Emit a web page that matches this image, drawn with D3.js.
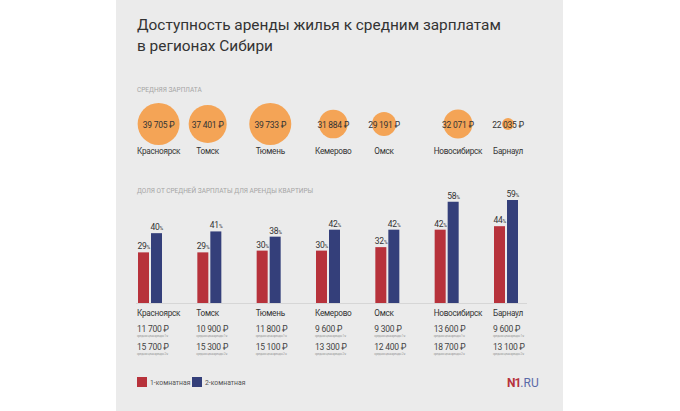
<!DOCTYPE html>
<html>
<head>
<meta charset="utf-8">
<script src="https://cdn.jsdelivr.net/npm/d3@7.9.0/dist/d3.min.js"></script>
<style>
  body { margin: 0; background: #fff; }
  svg { display: block; font-family: Roboto, "Noto Sans", sans-serif; }
  .nar { letter-spacing: -0.25px; }
</style>
</head>
<body>
<svg id="chart" width="680" height="411"></svg>
<script>
const cities = ['Красноярск', 'Томск', 'Тюмень', 'Кемерово', 'Омск', 'Новосибирск', 'Барнаул'];
const salary = [39705, 37401, 39733, 31884, 29191, 32071, 22035];
const share1 = [29, 29, 30, 30, 32, 42, 44];
const share2 = [40, 41, 38, 42, 42, 58, 59];
const rent1 = [11700, 10900, 11800, 9600, 9300, 13600, 9600];
const rent2 = [15700, 15300, 15100, 13300, 12400, 18700, 13100];
const seriesNames = ['1-комнатная', '2-комнатная'];

const red = '#b7323b', blue = '#343f7a', orange = '#f4a456';
const rub = d => d3.format(',')(d).replace(/,/g, ' ') + ' ₽';

const svg = d3.select('#chart');
// grey panel
svg.append('rect').attr('x', 116).attr('y', 0).attr('width', 447).attr('height', 411).attr('fill', '#ebebeb');

// title
const title = svg.append('text').attr('x', 137).attr('fill', '#333').attr('font-size', 15.4);
title.append('tspan').attr('x', 137).attr('y', 30).text('Доступность аренды жилья к средним зарплатам');
title.append('tspan').attr('x', 137).attr('y', 51).text('в регионах Сибири');

// section headings
svg.append('text').attr('x', 137).attr('y', 92).attr('font-size', 6.5).attr('fill', '#a5a5a5')
  .text('СРЕДНЯЯ ЗАРПЛАТА');
svg.append('text').attr('x', 137).attr('y', 193).attr('font-size', 6.5).attr('fill', '#a5a5a5')
  .text('ДОЛЯ ОТ СРЕДНЕЙ ЗАРПЛАТЫ ДЛЯ АРЕНДЫ КВАРТИРЫ');

// group positions
const x = d3.scalePoint().domain(cities).range([138, 494]);
const r = d3.scaleLinear().domain([22035, 39733]).range([6, 21]);
const y = d3.scaleLinear().domain([0, 59]).range([303, 200]);

// top row: salary circles
const bubbles = svg.append('g');
cities.forEach((c, i) => {
  const g = bubbles.append('g');
  const lab = g.append('text').attr('class', 'nar').attr('x', x(c) - 1).attr('y', 154)
    .attr('font-size', 8.2).attr('fill', '#333').text(c);
  const w = lab.node().getComputedTextLength();
  const cx = x(c) - 1 + w / 2;
  g.insert('circle', 'text').attr('cx', cx).attr('cy', 124).attr('r', r(salary[i])).attr('fill', orange);
  g.append('text').attr('class', 'nar').attr('x', cx).attr('y', 127.5).attr('text-anchor', 'middle')
    .attr('font-size', 8.5).attr('fill', '#333').text(rub(salary[i]));
});

// baseline
svg.append('line').attr('x1', 136).attr('x2', 527).attr('y1', 303.5).attr('y2', 303.5)
  .attr('stroke', '#d6d6d6').attr('stroke-width', 1);

// bars
const bw = 11;
[share1, share2].forEach((vals, s) => {
  const col = s === 0 ? red : blue;
  svg.append('g').selectAll('rect').data(vals).join('rect')
    .attr('x', (d, i) => x(cities[i]) + s * (bw + 2))
    .attr('y', d => y(d))
    .attr('width', bw)
    .attr('height', d => y(0) - y(d))
    .attr('fill', col);
  const lab = svg.append('g').selectAll('text').data(vals).join('text')
    .attr('class', 'nar')
    .attr('x', (d, i) => x(cities[i]) + s * (bw + 2) - 0.5)
    .attr('y', d => y(d) - 3)
    .attr('font-size', 8.5).attr('fill', '#333');
  lab.append('tspan').text(d => d);
  lab.append('tspan').attr('font-size', 5).text('%');
});

// bottom table
cities.forEach((c, i) => {
  const g = svg.append('g').attr('class', 'nar').attr('transform', `translate(${x(c) - 1},0)`);
  g.append('text').attr('y', 316).attr('font-size', 8.2).attr('fill', '#333').text(c);
  g.append('text').attr('y', 332).attr('font-size', 8.5).attr('fill', '#444').text(rub(rent1[i]));
  g.append('text').attr('y', 337).attr('font-size', 3.1).attr('fill', '#999').text('средняя цена аренды 1-к');
  g.append('text').attr('y', 350).attr('font-size', 8.5).attr('fill', '#444').text(rub(rent2[i]));
  g.append('text').attr('y', 355).attr('font-size', 3.1).attr('fill', '#999').text('средняя цена аренды 2-к');
});

// legend
const leg = svg.append('g');
seriesNames.forEach((n, i) => {
  const lx = 137 + i * 55;
  leg.append('rect').attr('x', lx).attr('y', 377).attr('width', 10).attr('height', 10).attr('fill', i === 0 ? red : blue);
  leg.append('text').attr('x', lx + 13).attr('y', 385).attr('font-size', 6.8).attr('fill', '#555').text(n);
});

// logo
const logo = svg.append('text').attr('x', 507).attr('y', 387).attr('font-size', 12);
logo.append('tspan').attr('font-weight', 'bold').attr('fill', red).attr('letter-spacing', -1).text('N1');
logo.append('tspan').attr('fill', '#5a6aa8').text('.RU');
</script>
</body>
</html>
